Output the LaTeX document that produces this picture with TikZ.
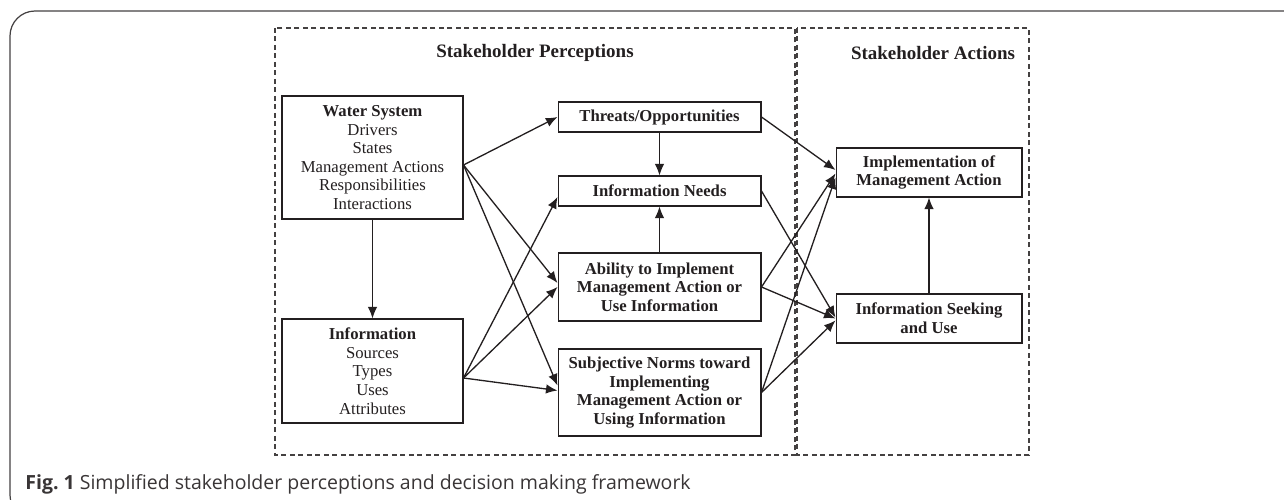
\documentclass[tikz,border=0pt]{standalone}
\usepackage{fontspec}
\setmainfont{Liberation Serif}
\newfontfamily\capfont{Open Sans}
\usetikzlibrary{arrows.meta, positioning}
\definecolor{ink}{HTML}{231F20}
\tikzset{
    x=0.02cm, y=-0.02cm, % one unit per pixel, y grows downwards
    box/.style={draw=ink, line width=0.6pt, align=center, inner sep=0pt, text=ink,
        font=\fontsize{9.5}{10.6}\selectfont}, % the framed boxes
    bbox/.style={box, font=\fontsize{9.5}{10.6}\selectfont\bfseries}, % boxes in bold
    zone/.style={draw=ink!85, dash pattern=on 1mm off 0.7mm, line width=0.6pt}, % dashed areas
    link/.style={draw=ink, line width=0.75pt, -{Latex[length=2.3mm,width=1.9mm]}}, % arrows
    heading/.style={text=ink, font=\fontsize{10.8}{12}\selectfont\bfseries},
}

\begin{document}
\begin{tikzpicture}
    \useasboundingbox (0,0) rectangle (1284,500);
    % rounded outer frame, cut at the page edge
    \begin{scope}
        \clip (0,0) rectangle (1284,500);
        \draw[ink!85, line width=0.7pt, rounded corners=5mm] (10,11) rectangle (1310,520);
    \end{scope}

    % the two dashed areas
    \draw[zone] (275,28) rectangle (795,455);
    \draw[zone] (797,28) rectangle (1029,455);
    \node[heading] (pertitle) at (535,53) {Stakeholder Perceptions};
    \node[heading] (acttitle) at (933,53) {Stakeholder Actions};

    % left column
    \node[box, minimum width=3.62cm, minimum height=2.46cm] (ws) at (372.5,157.5)
        {\textbf{Water System}\\Drivers\\States\\Management Actions\\Responsibilities\\Interactions};
    \node[box, minimum width=3.62cm, minimum height=2.08cm] (info) at (372.5,371)
        {\textbf{Information}\\Sources\\Types\\Uses\\Attributes};

    % middle column
    \node[bbox, minimum width=4.06cm, minimum height=0.6cm] (threats) at (659.5,117)
        {Threats/Opportunities};
    \node[bbox, minimum width=4.06cm, minimum height=0.6cm] (needs) at (659.5,191)
        {Information Needs};
    \node[bbox, minimum width=4.06cm, minimum height=1.36cm] (ability) at (659.5,287)
        {Ability to Implement\\Management Action or\\Use Information};
    \node[bbox, minimum width=4.06cm, minimum height=1.74cm] (norms) at (659.5,392.5)
        {Subjective Norms toward\\Implementing\\Management Action or\\Using Information};

    % right column
    \node[bbox, minimum width=3.72cm, minimum height=0.98cm] (impl) at (929,172.5)
        {Implementation of\\Management Action};
    \node[bbox, minimum width=3.72cm, minimum height=0.98cm] (seek) at (929,318.5)
        {Information Seeking\\and Use};

    % arrows
    \draw[link] (ws) -- (info);
    \draw[link] (threats) -- (needs);
    \draw[link] (ability) -- (needs);
    \draw[link] (seek) -- (impl);
    \draw[link] ([yshift=-0.15cm]ws.east) -- (threats.west);
    \draw[link] ([yshift=-0.15cm]ws.east) -- ([yshift=0.08cm]ability.west);
    \draw[link] ([yshift=-0.15cm]ws.east) -- ([yshift=0.14cm]norms.west);
    \draw[link] ([yshift=-0.14cm]info.east) -- ([yshift=-0.12cm]needs.west);
    \draw[link] ([yshift=-0.14cm]info.east) -- (ability.west);
    \draw[link] ([yshift=-0.14cm]info.east) -- ([yshift=0.04cm]norms.west);
    \draw[link] (threats.east) -- ([yshift=0.05cm]impl.west);
    \draw[link] (ability.east) -- ([yshift=-0.02cm]impl.west);
    \draw[link] (norms.east) -- ([yshift=-0.1cm]impl.west);
    \draw[link] (needs.east) -- ([yshift=0.02cm]seek.west);
    \draw[link] (ability.east) -- (seek.west);
    \draw[link] (norms.east) -- ([yshift=-0.04cm]seek.west);

    % caption
    \node[anchor=base west, inner sep=0pt, text=ink!90, font=\capfont\fontsize{11.1}{13}\selectfont] (caption) at (25,489)
        {\textbf{Fig.~1} Simplified stakeholder perceptions and decision making framework};
\end{tikzpicture}
\end{document}
